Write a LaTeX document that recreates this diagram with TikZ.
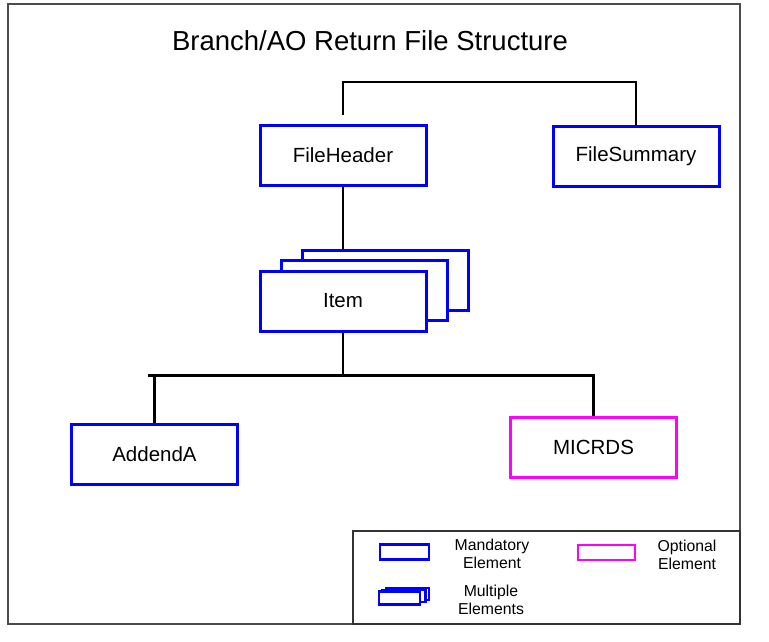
\documentclass[tikz,border=0pt]{standalone}
\usepackage{fontspec}
\setmainfont{Liberation Sans}
\definecolor{pblue}{RGB}{0,0,255}
\definecolor{pmag}{RGB}{255,0,255}
\begin{document}
\begin{tikzpicture}[x=1pt,y=-1pt,
  box/.style={draw=pblue, line width=3pt, fill=white, minimum width=166pt, minimum height=60pt, inner sep=0pt, font=\fontsize{20.5}{24}\selectfont},
  optbox/.style={box, draw=pmag},
  conn/.style={draw=black, line width=2.8pt},
  legtext/.style={align=center, font=\fontsize{15.8}{18.5}\selectfont, inner sep=0pt},
  legbox/.style={draw=pblue, line width=2.4pt, fill=white, inner sep=0pt}]
\useasboundingbox (0,0) rectangle (769,642);
\fill[white] (0,0) rectangle (769,642);
% frame
\draw[line width=1.8pt, black!70] (8,4) rectangle (740,624);
% title
\node[font=\fontsize{27.5}{32}\selectfont, inner sep=0pt] (title) at (370,41) {Branch/AO Return File Structure};
% boxes
\node[box] (fh) at (343,155) {FileHeader};
\node[box] (fs) at (636,156.5) {FileSummary};
\node[box] (back) at (385,280) {};
\node[box] (mid) at (364,290.5) {};
\node[box] (item) at (343,301) {Item};
\node[box] (adda) at (154.5,454) {AddendA};
\node[optbox] (mic) at (593.5,447) {MICRDS};
% connectors
\coordinate (tb) at (0,82);
\coordinate (bb) at (0,375.5);
\coordinate (bl) at (148,375.5);
\coordinate (br) at (595,375.5);
\draw[conn] ([yshift=9pt]fh.north) |- (fs.north |- tb) -- (fs.north);
\draw[conn] (fh.south) -- (fh.south |- back.north);
\draw[conn] (item.south) -- (item.south |- bb);
\draw[conn] (bl) -- (br);
\draw[conn] (adda.north |- bb) -- (adda.north);
\draw[conn] (mic.north |- bb) -- (mic.north);
% legend
\draw[line width=1.5pt, black!80] (353,531) rectangle (740,624);
\node[legbox, minimum width=49pt, minimum height=15pt] (lm) at (404.5,552) {};
\node[legtext] (lmt) at (492,554) {Mandatory\\Element};
\node[legbox, draw=pmag, minimum width=57pt, minimum height=15pt] (lo) at (606.5,552.5) {};
\node[legtext] (lot) at (687,555) {Optional\\Element};
\node[legbox, minimum width=43pt, minimum height=12pt] (l3) at (407.5,594) {};
\node[legbox, minimum width=43pt, minimum height=12pt] (l2) at (404,596) {};
\node[legbox, minimum width=41pt, minimum height=13pt] (l1) at (399.5,598) {};
\node[legtext] (lmu) at (491,600) {Multiple\\Elements};
\end{tikzpicture}
\end{document}
